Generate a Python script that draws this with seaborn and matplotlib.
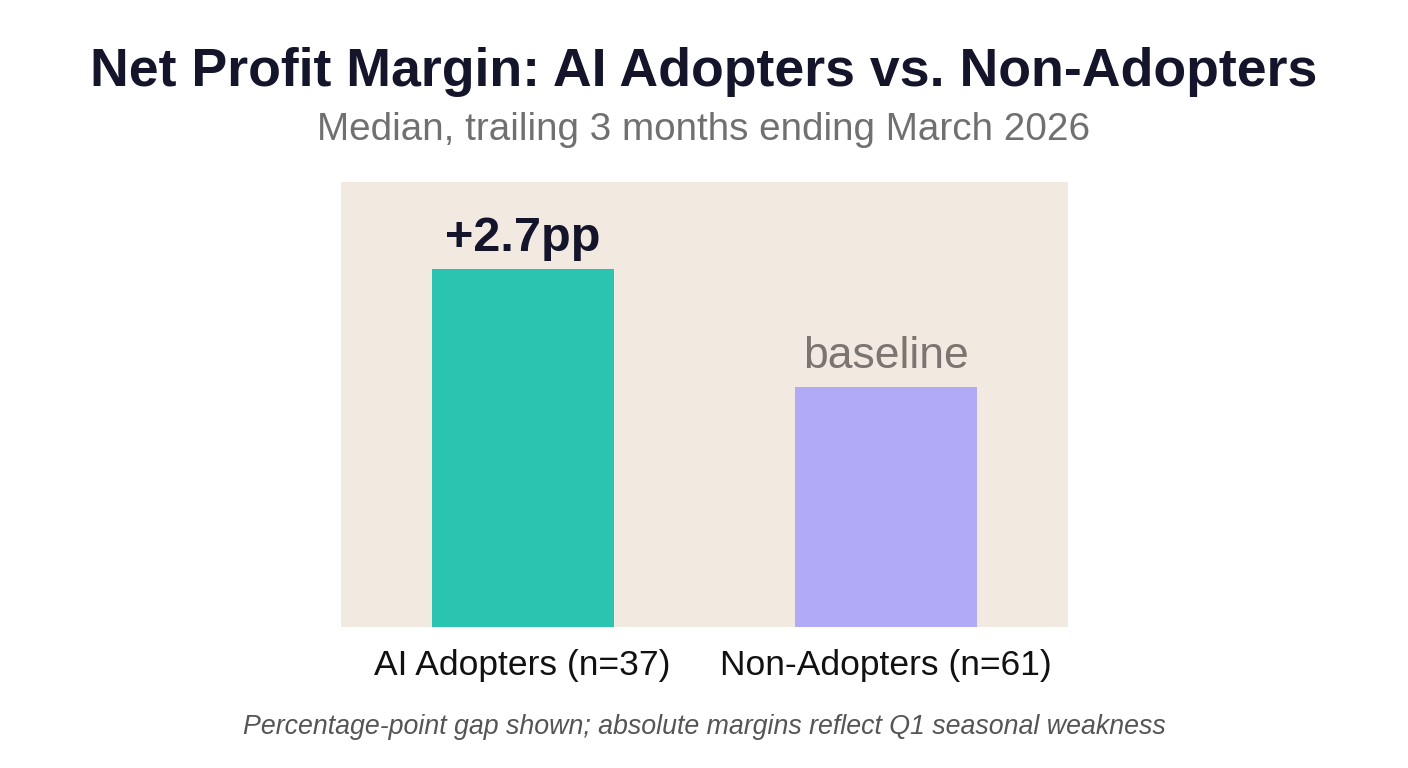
import pandas as pd
import seaborn as sns
import matplotlib
matplotlib.use("Agg")
import matplotlib.pyplot as plt

# ----------------------
# Data
# ----------------------
groups = ["AI Adopters (n=37)", "Non-Adopters (n=61)"]
margins = [8.2, 5.5]          # median net margin, % (relative heights)
bar_labels = ["+2.7pp", "baseline"]
bar_colors = ["#2AC4B0", "#B1ABF7"]

df = pd.DataFrame({"group": groups, "margin": margins})

# ----------------------
# Plot
# ----------------------
sns.set_theme(style="white")
plt.rcParams["font.family"] = ["Liberation Sans", "DejaVu Sans"]

fig = plt.figure(figsize=(14.08, 7.68), dpi=100)
fig.patch.set_facecolor("white")
ax = fig.add_axes([341 / 1408, 1 - 627 / 768, 727 / 1408, 445 / 768])
ax.set_facecolor("#F2E9E0")

sns.barplot(data=df, x="group", y="margin", hue="group", palette=bar_colors,
            width=0.5, legend=False, ax=ax, saturation=1, linewidth=0)

ax.set_xlim(-0.5, 1.5)
ax.set_ylim(0, 10.2)
ax.set_yticks([])
ax.set_xlabel("")
ax.set_ylabel("")
for s in ax.spines.values():
    s.set_visible(False)
ax.tick_params(axis="x", length=0, pad=16, labelsize=25.5, labelcolor="#111111")

# labels above bars
ax.text(0, margins[0] + 0.2, bar_labels[0], ha="center", va="bottom",
        fontsize=35, fontweight="bold", color="#14142B")
ax.text(1, margins[1] + 0.22, bar_labels[1], ha="center", va="bottom",
        fontsize=32, color="#7A7570")

# titles
fig.text(0.5, 1 - 72 / 768, "Net Profit Margin: AI Adopters vs. Non-Adopters",
         ha="center", va="center", fontsize=38.6, fontweight="bold", color="#14142B")
fig.text(0.5, 1 - 130 / 768, "Median, trailing 3 months ending March 2026",
         ha="center", va="center", fontsize=27.8, color="#707070")
fig.text(0.5, 1 - 727 / 768,
         "Percentage-point gap shown; absolute margins reflect Q1 seasonal weakness",
         ha="center", va="center", fontsize=19.3, style="italic", color="#555555")

fig.savefig("out.png", dpi=100, facecolor="white")
